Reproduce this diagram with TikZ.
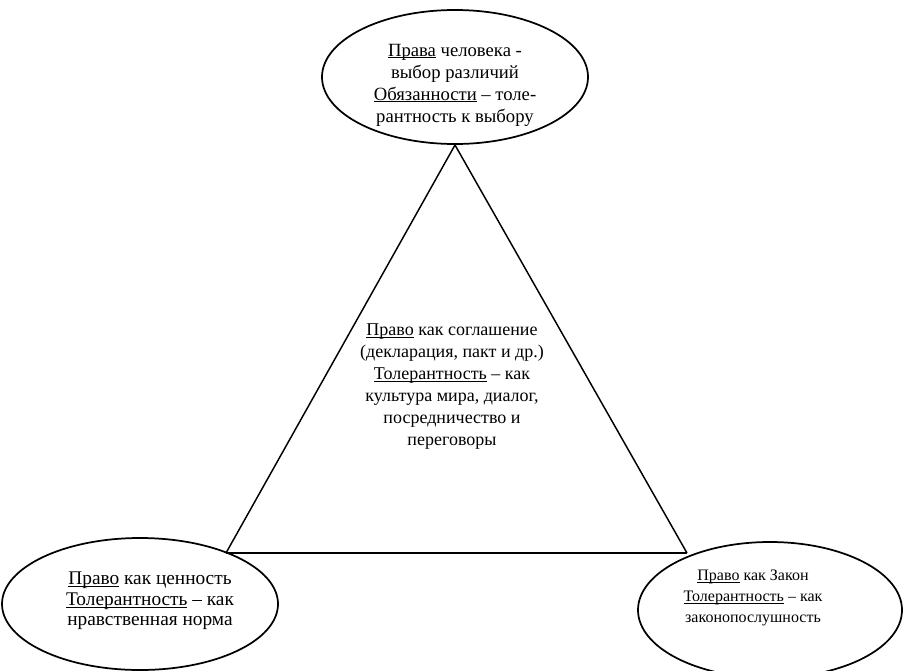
\documentclass[tikz,border=0pt]{standalone}
\usepackage{fontspec}
\setmainfont{Liberation Serif}
\usetikzlibrary{shapes.geometric}
\newcommand{\undl}[1]{\setbox0\hbox{#1}\rlap{\rule[-1.6pt]{\wd0}{0.6pt}}\box0\relax}
\tikzset{oval/.style={draw,ellipse,line width=1.3pt,inner sep=0pt},
  txt/.style={align=center,inner sep=0pt}}

\begin{document}
\begin{tikzpicture}[x=0.75pt,y=-0.75pt]
\useasboundingbox (0,0) rectangle (903,671);
% the three ovals
\node[oval,minimum width=199.5pt,minimum height=100.5pt] (topoval) at (455,77) {};
\node[oval,minimum width=207pt,minimum height=99pt] (leftoval) at (140,604) {};
\node[oval,minimum width=198pt,minimum height=102pt] (rightoval) at (770,610) {};
% the triangle
\coordinate (apex) at (455,145);
\coordinate (cornerl) at (226,553);
\coordinate (cornerr) at (687,553);
\draw[line width=1.1pt] (cornerl) -- (apex) -- (cornerr);
\draw[line width=1.5pt] (cornerl) -- (cornerr);
% texts
\node[txt,font=\fontsize{14}{16.5}\selectfont] (toptext) at (455,85)
{\undl{Права} человека -\\выбор различий\\\undl{Обязанности} – толе-\\рантность к выбору};
\node[txt,font=\fontsize{13.5}{16.5}\selectfont] (midtext) at (452,387)
{\undl{Право} как соглашение\\(декларация, пакт и др.)\\\undl{Толерантность} – как\\культура мира, диалог,\\посредничество и\\переговоры};
\node[txt,font=\fontsize{14.5}{15.5}\selectfont] (lefttext) at (150,601)
{\undl{Право} как ценность\\\undl{Толерантность} – как\\нравственная норма};
\node[txt,font=\fontsize{12}{16}\selectfont] (righttext) at (753,598)
{\undl{Право} как Закон\\\undl{Толерантность} – как\\законопослушность};
\end{tikzpicture}
\end{document}
